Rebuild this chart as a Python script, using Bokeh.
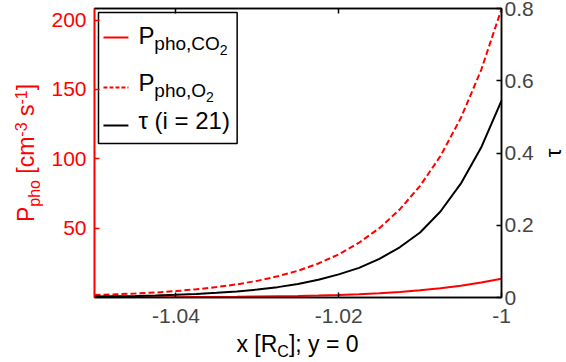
from bokeh.plotting import figure
from bokeh.models import Range1d, LinearAxis, FixedTicker, Label
from bokeh.layouts import row, column
from bokeh.embed import file_html
from bokeh.resources import INLINE

# ---------------- data ----------------
x_pos = [-1.05, -1.0475, -1.045, -1.0425, -1.04, -1.0375, -1.035, -1.0325,
         -1.03, -1.0275, -1.025, -1.0225, -1.02, -1.0175, -1.015, -1.0125,
         -1.01, -1.0075, -1.005, -1.0025, -1.0]
p_pho_co2 = [0.09, 0.12, 0.15, 0.19, 0.25, 0.32, 0.41, 0.52, 0.67, 0.87, 1.11,
             1.43, 1.83, 2.35, 3.0, 3.9, 5.2, 6.7, 8.5, 10.8, 13.5]
p_pho_o2 = [1.8, 2.3, 2.9, 3.6, 4.6, 5.9, 7.5, 9.5, 12.0, 15.3, 19.3, 24.5,
            31.1, 39.5, 50.0, 63.5, 80.5, 102.0, 129.4, 164.0, 208.0]
tau_i21 = [0.0026, 0.0034, 0.0044, 0.0058, 0.0075, 0.0098, 0.0129, 0.0168,
           0.022, 0.0287, 0.0375, 0.049, 0.064, 0.082, 0.107, 0.139, 0.180,
           0.238, 0.315, 0.415, 0.545]

x_ticks = [-1.04, -1.02, -1.0]
x_tick_labels = ["-1.04", "-1.02", "-1"]
left_ticks = [50.0, 100.0, 150.0, 200.0]
left_tick_labels = ["50", "100", "150", "200"]
right_ticks = [0.0, 0.2, 0.4, 0.6, 0.8]
right_tick_labels = ["0", "0.2", "0.4", "0.6", "0.8"]

X0, X1 = -1.05, -1.0
Y0, Y1 = 0.0, 208.4
T0, T1 = 0.0, 0.8

RED = "#ff0000"
FONT = "Liberation Sans"
TICK_FS = "21px"

# ---------------- layout (pixels) ----------------
TOT_W, TOT_H = 566, 362
LW = 48            # left label strip
RW = 30            # right label strip
BH = 30            # bottom label strip
MAIN_H = TOT_H - BH
MAIN_W = TOT_W - LW - RW
BL, BT = 45, 8     # main figure borders
FW, FH = 408, 289
BR = MAIN_W - BL - FW
BB = MAIN_H - BT - FH
HALF_PI = 1.5707963
MID = 0.35         # text is centred on its anchor: baseline sits 0.35 em below


def fx(px):
    return X0 + (X1 - X0) * px / FW


def fy(py):
    return Y1 - (Y1 - Y0) * py / FH


ADV = {' ': 278, 'P': 667, 'p': 556, 'h': 556, 'o': 556, ',': 278, 'C': 722,
       'O': 778, '2': 556, '1': 556, '3': 556, '0': 556, '(': 333, ')': 333,
       'i': 222, '=': 584, '[': 278, ']': 278, 'c': 500, 'm': 833, '-': 333,
       's': 500, 'x': 500, 'R': 722, ';': 278, 'y': 500, 'τ': 480}


def tw(s, size):
    return sum(ADV.get(c, 556) for c in s) * size / 1000.0


def strip_fig(w, h, yr):
    f = figure(width=w, height=h, x_range=Range1d(0, w), y_range=yr,
               output_backend="svg", toolbar_location=None,
               x_axis_type=None, y_axis_type=None,
               min_border=0, min_border_left=0, min_border_right=0,
               min_border_top=0, min_border_bottom=0)
    f.title.visible = False
    f.xgrid.visible = False
    f.ygrid.visible = False
    f.outline_line_color = None
    f.background_fill_color = "white"
    f.border_fill_color = "white"
    return f


def label(fig, x, y, s, size, color="black", angle=0.0, align="left",
          baseline="alphabetic"):
    fig.add_layout(Label(x=x, y=y, text=s, text_font=FONT,
                         text_font_size=f"{size}px", text_color=color,
                         angle=angle, text_align=align,
                         text_baseline=baseline))


# ---------------- main figure ----------------
p = figure(width=MAIN_W, height=MAIN_H, x_range=Range1d(X0, X1),
           y_range=Range1d(Y0, Y1), output_backend="svg",
           toolbar_location=None, min_border_left=BL, min_border_right=BR,
           min_border_top=BT, min_border_bottom=BB)
p.title.visible = False
p.xgrid.visible = False
p.ygrid.visible = False
p.outline_line_color = "black"
p.outline_line_width = 1.5
p.background_fill_color = "white"
p.border_fill_color = "white"
p.extra_y_ranges = {"tau": Range1d(T0, T1)}

ya = p.yaxis[0]
ya.ticker = FixedTicker(ticks=left_ticks)
ya.major_label_overrides = dict(zip(left_ticks, left_tick_labels))
ya.axis_line_color = RED
ya.axis_line_width = 1.5
ya.major_tick_line_color = RED
ya.major_tick_line_width = 1.5
ya.major_tick_in = 5
ya.major_tick_out = 0
ya.minor_tick_line_color = None
ya.major_label_text_color = RED
ya.major_label_text_font = FONT
ya.major_label_text_font_size = TICK_FS
ya.major_label_standoff = 8

xa = p.xaxis[0]
xa.ticker = FixedTicker(ticks=x_ticks)
xa.major_label_overrides = dict(zip(x_ticks, x_tick_labels))
xa.axis_line_color = "black"
xa.axis_line_width = 1.5
xa.major_tick_line_width = 1.5
xa.major_tick_in = 5
xa.major_tick_out = 0
xa.minor_tick_line_color = None
xa.major_label_text_font = FONT
xa.major_label_text_font_size = TICK_FS
xa.major_label_standoff = 11

ra = LinearAxis(y_range_name="tau", ticker=FixedTicker(ticks=right_ticks))
ra.major_label_overrides = dict(zip(right_ticks, right_tick_labels))
ra.axis_line_color = "black"
ra.axis_line_width = 1.5
ra.major_tick_line_width = 1.5
ra.major_tick_in = 5
ra.major_tick_out = 0
ra.minor_tick_line_color = None
ra.major_label_text_font = FONT
ra.major_label_text_font_size = TICK_FS
ra.major_label_standoff = 3
p.add_layout(ra, "right")

ta = LinearAxis(ticker=FixedTicker(ticks=x_ticks))
ta.major_label_overrides = {t: "" for t in x_ticks}
ta.major_label_text_font_size = "1px"
ta.major_label_standoff = 0
ta.axis_line_color = "black"
ta.axis_line_width = 1.5
ta.major_tick_line_width = 1.5
ta.major_tick_in = 5
ta.major_tick_out = 0
ta.minor_tick_line_color = None
p.add_layout(ta, "above")

p.line(x_pos, p_pho_co2, line_color=RED, line_width=2)
p.line(x_pos, p_pho_o2, line_color=RED, line_width=2, line_dash="6 3")
p.line(x_pos, tau_i21, line_color="black", line_width=2, y_range_name="tau")

# legend drawn by hand (sub-scripts)
p.quad(left=fx(4), right=fx(143), top=fy(4), bottom=fy(135),
       fill_color="white", line_color="black", line_width=1.5)
p.line([fx(9), fx(34)], [fy(29), fy(29)], line_color=RED, line_width=2)
p.line([fx(9), fx(34)], [fy(79), fy(79)], line_color=RED, line_width=2,
       line_dash="4 2")
p.line([fx(9), fx(34)], [fy(117), fy(117)], line_color="black", line_width=2)


def leg_text(px, base, s, size):
    label(p, fx(px), fy(base - MID * size), s, size)


TX = 44
MAIN, SUB, SUB2 = 24, 19, 14
leg_text(TX, 35, "P", MAIN)
leg_text(TX + tw("P", MAIN), 42, "pho,CO", SUB)
leg_text(TX + tw("P", MAIN) + tw("pho,CO", SUB), 46, "2", SUB2)
leg_text(TX, 82, "P", MAIN)
leg_text(TX + tw("P", MAIN), 89, "pho,O", SUB)
leg_text(TX + tw("P", MAIN) + tw("pho,O", SUB), 93, "2", SUB2)
leg_text(TX, 120, "τ (i = 21)", MAIN)

# ---------------- left strip: P_pho [cm^-3 s^-1] ----------------
# the strip's frame is aligned with the main frame; data y = pixels from top
L = strip_fig(LW, MAIN_H, Range1d(start=BT + FH, end=BT))
AM, AS = 23, 16
SP = tw(" ", AM)
# (text, size, baseline shift, gap before)
yl_parts = [("P", AM, 0, 0), ("pho", AS, 6, 0), ("[cm", AM, 0, SP),
            ("-3", AS, -8, 0), ("s", AM, 0, SP), ("-1", AS, -8, 0),
            ("]", AM, 0, 0)]
total = sum(tw(s, sz) + g for s, sz, _, g in yl_parts)
frame_mid = BT + FH / 2
cy = frame_mid + total / 2
BASE_X = 34        # baseline of the main text (x, pixels)
for s, sz, dx, gap in yl_parts:
    cy -= gap
    label(L, BASE_X + dx - MID * sz, cy, s, sz, color=RED, angle=HALF_PI)
    cy -= tw(s, sz)

# ---------------- right strip: tau ----------------
R = strip_fig(RW, MAIN_H, Range1d(start=BT + FH, end=BT))
label(R, 17, frame_mid, "τ", 22, angle=HALF_PI, align="center",
      baseline="middle")

# ---------------- bottom strip: x [R_C]; y = 0 ----------------
B = strip_fig(TOT_W, BH, Range1d(start=BH, end=0))
LM, LS = 23, 16
xl_parts = [("x [R", LM, 0), ("C", LS, 5), ("]; y = 0", LM, 0)]
total = sum(tw(s, sz) for s, sz, _ in xl_parts)
cx = LW + BL + FW / 2 - total / 2
BASE_Y = 20        # baseline, pixels from the strip top
for s, sz, dy in xl_parts:
    label(B, cx, BASE_Y + dy - MID * sz, s, sz)
    cx += tw(s, sz)

layout = column(row(L, p, R, spacing=0), B, spacing=0)

open("out.html", "w").write(file_html(layout, INLINE))
